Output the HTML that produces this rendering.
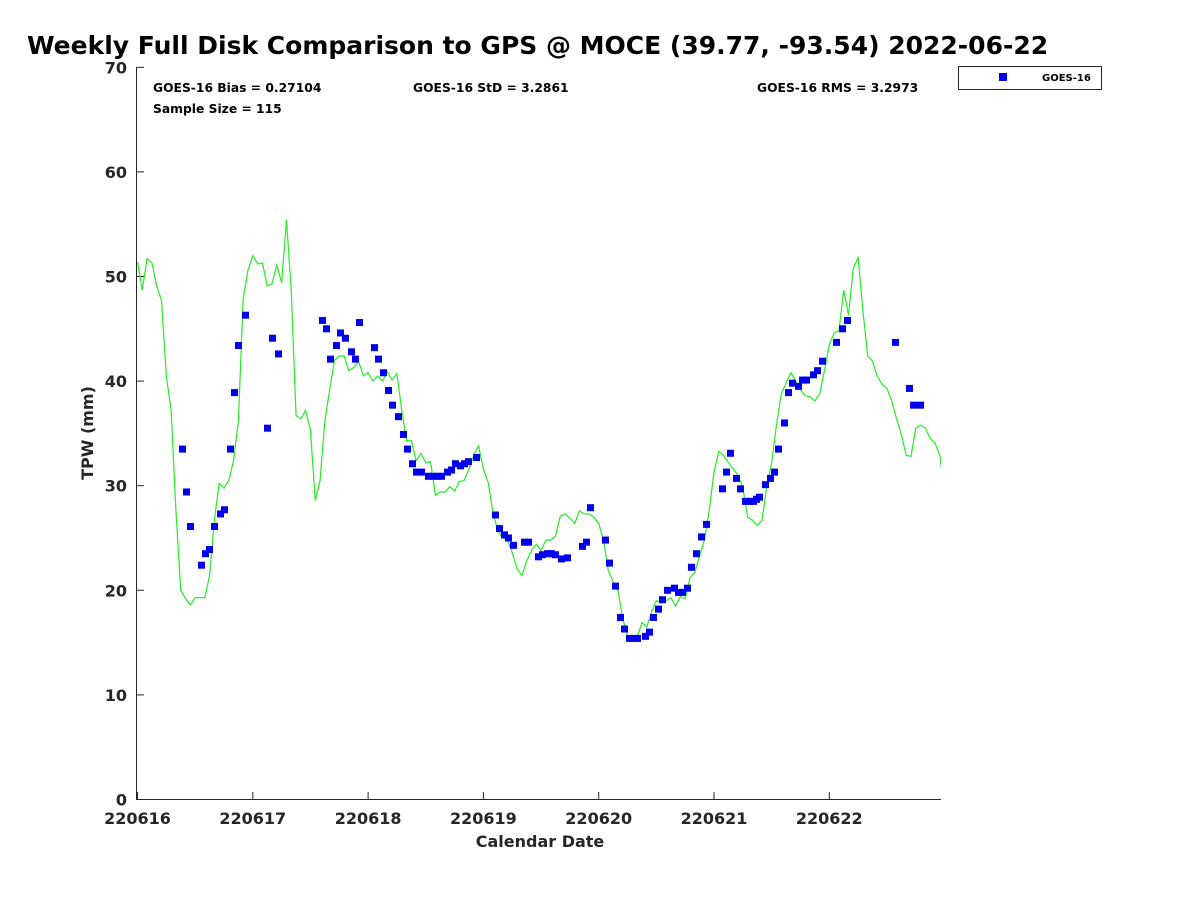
<!DOCTYPE html>
<html><head><meta charset="utf-8">
<style>
html,body{margin:0;padding:0;background:#fff;}
svg{display:block;font-family:"DejaVu Sans","Liberation Sans",sans-serif;}
</style></head>
<body>
<svg id="chart" width="1200" height="900" viewBox="0 0 1200 900" xmlns="http://www.w3.org/2000/svg">
<rect width="1200" height="900" fill="#fff"/>
<text x="27" y="54" font-size="25" font-weight="bold" fill="#000">Weekly Full Disk Comparison to GPS @ MOCE (39.77, -93.54) 2022-06-22</text>
<g id="axes"></g>
<g id="plot"></g>
<text x="153" y="92" font-size="12.3" font-weight="bold" fill="#000">GOES-16 Bias = 0.27104</text>
<text x="413" y="92" font-size="12.3" font-weight="bold" fill="#000">GOES-16 StD = 3.2861</text>
<text x="757" y="92" font-size="12.3" font-weight="bold" fill="#000">GOES-16 RMS = 3.2973</text>
<text x="153" y="113" font-size="12.3" font-weight="bold" fill="#000">Sample Size = 115</text>
<g>
<rect x="958.5" y="66.5" width="143" height="23" fill="#fff" stroke="#262626" stroke-width="1"/>
<rect x="999" y="73" width="8" height="8" fill="#0000ee"/>
<text x="1042" y="81" font-size="10" font-weight="bold" fill="#000">GOES-16</text>
</g>
<text x="540" y="847" font-size="16" font-weight="bold" fill="#262626" text-anchor="middle">Calendar Date</text>
<text transform="translate(93,433) rotate(-90)" font-size="16" font-weight="bold" fill="#262626" text-anchor="middle">TPW (mm)</text>
</svg>
<script>
// GPS TPW, hourly from 220616 00Z (mm)
const gpsValues = [51.4,48.7,51.7,51.3,49.1,47.7,40.5,37.2,27.6,20.0,19.2,18.6,19.3,19.3,19.3,21.4,26.7,30.2,29.8,30.5,32.4,36.2,47.9,50.6,
52.0,51.2,51.3,49.1,49.3,51.1,49.4,55.4,48.7,36.7,36.4,37.2,35.3,28.6,30.5,36.2,39.2,42.0,42.4,42.4,41.0,41.3,41.9,40.5,
40.8,40.0,40.5,40.0,40.9,40.1,40.7,37.2,34.3,34.3,32.4,33.1,32.2,32.3,29.1,29.4,29.4,29.9,29.5,30.4,30.5,31.6,32.9,33.8,
31.6,30.3,27.4,25.7,25.0,24.8,23.6,22.1,21.4,22.8,23.8,24.4,23.8,24.8,24.8,25.2,27.1,27.3,26.9,26.4,27.6,27.3,27.3,27.0,
26.4,24.8,21.9,20.8,20.0,17.3,15.7,15.4,15.5,16.9,16.5,17.9,19.0,18.8,19.0,19.3,18.5,19.4,19.2,21.2,21.7,23.3,24.8,27.6,
31.3,33.3,32.9,32.2,31.6,31.0,29.8,27.0,26.7,26.2,26.7,30.0,32.2,35.8,38.8,39.8,40.8,40.0,39.2,38.6,38.5,38.1,38.8,41.0,
43.5,44.6,44.8,48.7,46.3,50.8,51.8,46.7,42.4,41.9,40.4,39.7,39.3,38.1,36.4,34.9,32.9,32.8,35.5,35.8,35.5,34.5,34.1,32.9,29.4];
// GOES-16 samples: hours since 220616 00Z
const goesHours = [9.37,10.2,11.03,13.32,14.15,14.99,16.03,17.28,18.11,19.36,20.19,21.02,22.48,27.06,28.1,29.35,
38.5,39.34,40.17,41.42,42.25,43.29,44.54,45.38,46.21,49.33,50.16,51.2,52.25,53.08,54.33,55.37,56.2,57.24,58.08,59.12,60.58,61.62,62.45,63.28,64.53,65.36,66.19,67.23,68.07,68.9,70.57,
74.52,75.35,76.39,77.22,78.26,80.55,81.39,83.47,84.3,85.34,86.17,87.0,88.25,89.5,92.62,93.46,94.29,97.41,98.25,99.5,100.54,101.37,102.41,103.25,104.08,105.74,106.57,107.4,108.45,109.28,110.32,111.78,112.61,113.44,114.48,115.31,116.35,117.4,118.44,
121.77,122.6,123.43,124.68,125.52,126.56,127.39,128.22,128.85,129.47,130.72,131.76,132.6,133.43,134.68,135.51,136.34,137.59,138.43,139.26,140.72,141.55,142.59,145.5,146.75,147.79,157.78,160.7,161.53,162.99];
const goesValues = [33.5,29.4,26.1,22.4,23.5,23.9,26.1,27.3,27.7,33.5,38.9,43.4,46.3,35.5,44.1,42.6,
45.8,45.0,42.1,43.4,44.6,44.1,42.8,42.1,45.6,43.2,42.1,40.8,39.1,37.7,36.6,34.9,33.5,32.1,31.3,31.3,30.9,30.9,30.9,30.9,31.3,31.5,32.1,31.9,32.1,32.3,32.7,
27.2,25.9,25.3,25.0,24.3,24.6,24.6,23.2,23.4,23.5,23.5,23.4,23.0,23.1,24.2,24.6,27.9,24.8,22.6,20.4,17.4,16.3,15.4,15.4,15.4,15.6,16.0,17.4,18.2,19.1,20.0,20.2,19.8,19.8,20.2,22.2,23.5,25.1,26.3,
29.7,31.3,33.1,30.7,29.7,28.5,28.5,28.5,28.7,28.9,30.1,30.7,31.3,33.5,36.0,38.9,39.8,39.5,40.1,40.1,40.6,41.0,41.9,43.7,45.0,45.8,43.7,39.3,37.7,37.7];
const xTickLabels = ["220616","220617","220618","220619","220620","220621","220622"];
const yTickValues = [0,10,20,30,40,50,60,70];

const NS = "http://www.w3.org/2000/svg";
const X0 = 137.5, PXDAY = 115.3, Y0 = 799.5, PXMM = 10.46, XEND = 941;
const xs = h => X0 + h / 24 * PXDAY;
const ys = v => Y0 - v * PXMM;
function mk(tag, attrs, parent){const e=document.createElementNS(NS,tag);for(const k in attrs)e.setAttribute(k,attrs[k]);parent.appendChild(e);return e;}

const axes = document.getElementById('axes');
const plot = document.getElementById('plot');
let e = mk('line',{x1:136.5,y1:67,x2:136.5,y2:800,stroke:'#262626','stroke-width':1},axes);


e = mk('line',{x1:136,y1:799.5,x2:XEND,y2:799.5,stroke:'#262626','stroke-width':1},axes);


yTickValues.forEach(v=>{
  const y = ys(v);
  const t = mk('line',{x1:136.5,y1:y,x2:144,y2:y,stroke:'#262626','stroke-width':1},axes);
  
  
  const l = mk('text',{x:127,y:y+6,'font-size':16,'font-weight':'bold',fill:'#262626','text-anchor':'end'},axes);
  l.textContent = v;
  
  
});
xTickLabels.forEach((lab,i)=>{
  const x = xs(i*24);
  const t = mk('line',{x1:x,y1:799.5,x2:x,y2:792,stroke:'#262626','stroke-width':1},axes);
  
  
  const l = mk('text',{x:x,y:824,'font-size':16,'font-weight':'bold',fill:'#262626','text-anchor':'middle'},axes);
  l.textContent = lab;
  
  
});

const defs = mk('defs',{},plot);
const cp = mk('clipPath',{id:'clip'},defs);
mk('rect',{x:137,y:60,width:XEND-137,height:745},cp);

let d = '';
gpsValues.forEach((v,i)=>{ d += (i?'L':'M') + xs(i).toFixed(2) + ',' + ys(v).toFixed(2); });
const line = mk('path',{d:d,fill:'none',stroke:'#22ee22','stroke-width':1.2,'clip-path':'url(#clip)'},plot);



goesHours.forEach((h,i)=>{
  const r = mk('rect',{x:xs(h)-3.5,y:ys(goesValues[i])-3.5,width:7,height:7,fill:'#0000ee'},plot);
  
  
});
</script>
</body></html>
